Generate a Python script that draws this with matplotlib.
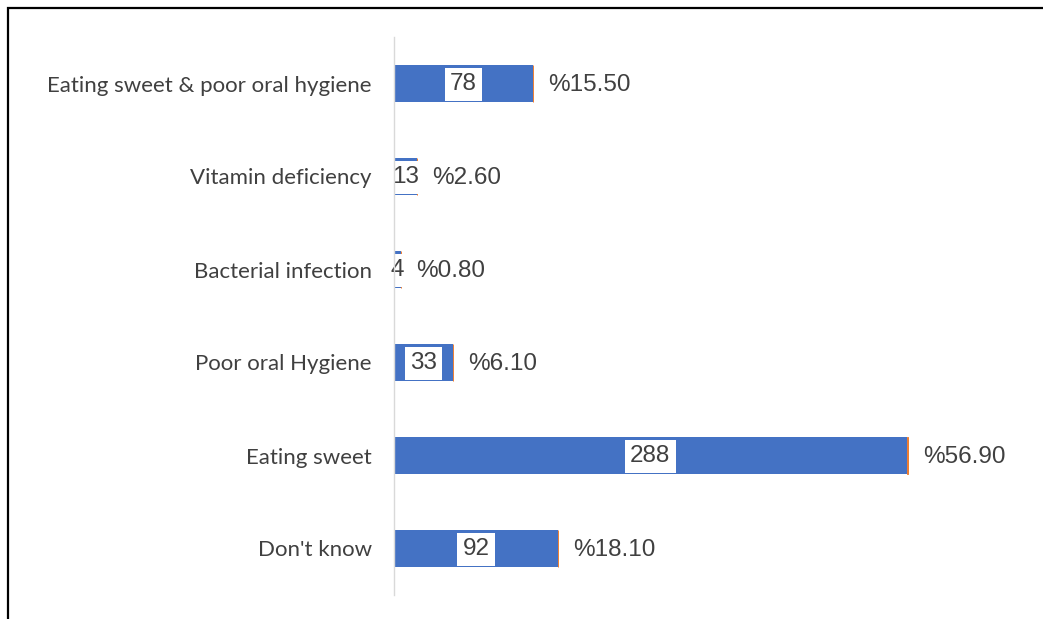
import matplotlib
matplotlib.use("Agg")
import matplotlib.pyplot as plt
from matplotlib.patches import Rectangle

# Causes of dental caries: respondent counts and share of respondents
categories = [
    "Don't know",
    "Eating sweet",
    "Poor oral Hygiene",
    "Bacterial infection",
    "Vitamin deficiency",
    "Eating sweet & poor oral hygiene",
]
counts = [92, 288, 33, 4, 13, 78]
percents = [18.10, 56.90, 6.10, 0.80, 2.60, 15.50]

BLUE = "#4472C4"
ORANGE = "#ED7D31"
TEXT = "#404040"

fig = plt.figure(figsize=(10.43, 6.19), dpi=100)
ax = fig.add_axes([394 / 1043, 1 - 595 / 619, (1017 - 394) / 1043, (595 - 37) / 619])

y = list(range(len(categories)))
bar_h = 0.39

ax.barh(y, counts, height=bar_h, color=BLUE, zorder=2)
# Percentage series stacked as a fraction on the end of each count bar
pct_frac = [p / 100 for p in percents]
ax.barh(y, pct_frac, left=counts, height=bar_h, color=ORANGE,
        edgecolor=ORANGE, linewidth=0.7, zorder=2)

label_font = dict(fontsize=17.5, family="Liberation Sans", color=TEXT, zorder=3)

# Count labels in white boxes at the middle of each bar
for yi, c in zip(y, counts):
    ax.annotate(f"{c}", xy=(c / 2, yi), xytext=(0, -0.6), textcoords="offset points",
                ha="center", va="center",
                bbox=dict(boxstyle="square,pad=0.22", fc="white", ec="none"),
                **label_font)

# Percentage labels just past the end of each stacked bar
for yi, c, f, p in zip(y, counts, pct_frac, percents):
    ax.annotate(f"%{p:.2f}", xy=(c + f, yi), xytext=(11, -1), textcoords="offset points",
                ha="left", va="center", **label_font)

ax.set_xlim(0, 350)
ax.set_ylim(-0.5, len(categories) - 0.5)
ax.set_yticks(y)
ax.set_yticklabels(categories, family="Lato", fontsize=16, color=TEXT)
ax.tick_params(axis="y", length=0, pad=16)
ax.set_xticks([])

for side in ("top", "right", "bottom"):
    ax.spines[side].set_visible(False)
ax.spines["left"].set_color("#D9D9D9")
ax.spines["left"].set_linewidth(1.0)
ax.spines["left"].set_zorder(5)

# Outer frame (continues past the right and bottom edges)
fig.patches.append(Rectangle((8 / 1043, -0.1), 1.2, 1 - 8 / 619 + 0.1,
                             transform=fig.transFigure, fill=False,
                             ec="black", lw=1.6, zorder=10))

fig.savefig("out.png", dpi=100, facecolor="white")
